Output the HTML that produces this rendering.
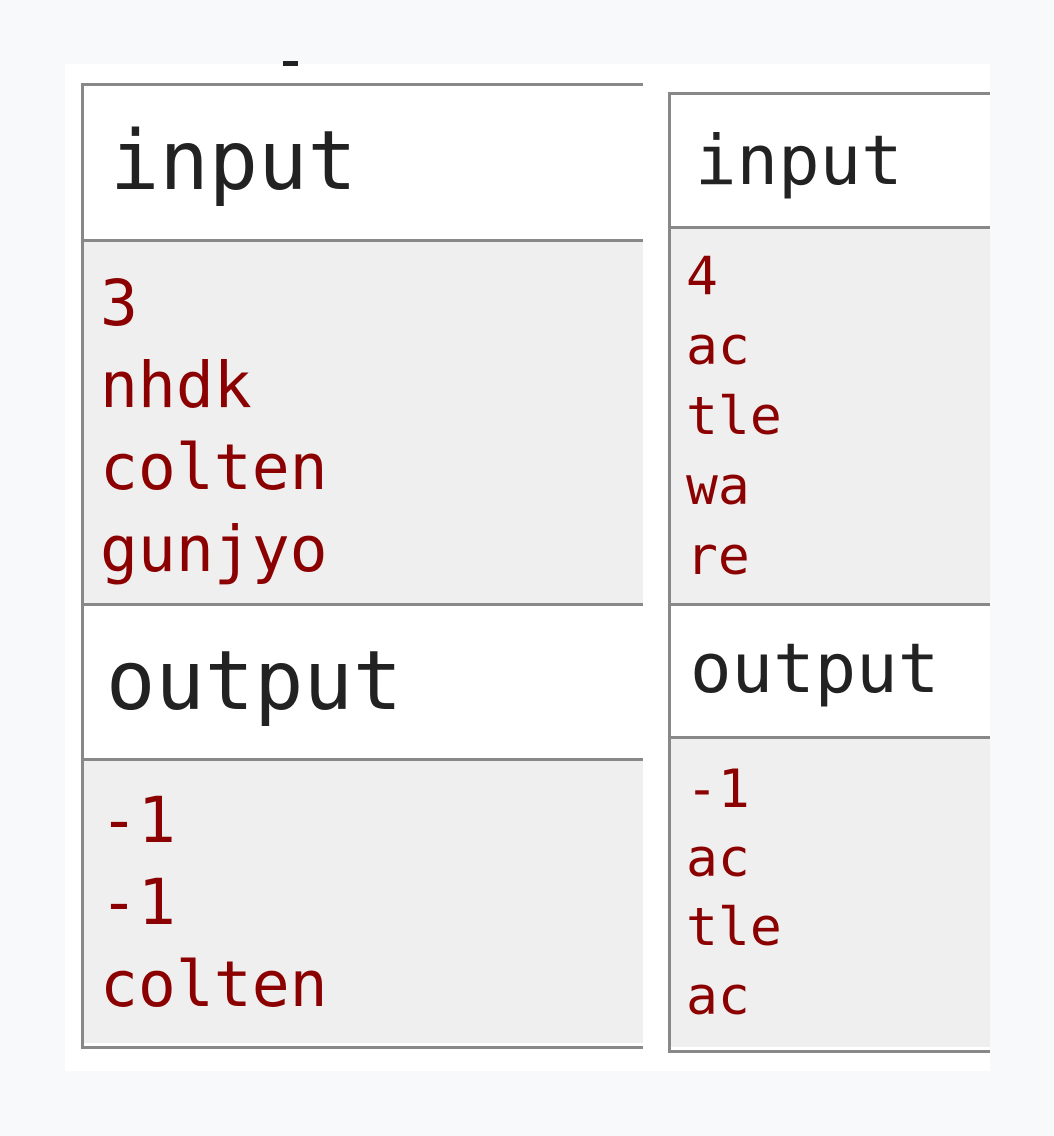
<!DOCTYPE html>
<html><head><meta charset="utf-8"><style>
html,body{margin:0;padding:0;width:1054px;height:1136px;background:#f8f9fa;overflow:hidden;position:relative}
.a{position:absolute}
.t{position:absolute;font-family:"DejaVu Sans Mono","Liberation Mono",monospace;line-height:1;white-space:pre}
.h{color:#222}
.d{color:#8b0000}
</style></head><body>
<div class="a" style="left:65px;top:64px;width:925px;height:1007px;background:#fff"></div>
<div class="a" style="left:283px;top:61px;width:15px;height:5px;background:#222"></div>

<!-- left table -->
<div class="a" style="left:81px;top:83px;width:570px;height:960px;border:3px solid #888;border-right:none;background:#fff"></div>
<div class="a" style="left:84px;top:241px;width:559px;height:363px;background:#efefef"></div>
<div class="a" style="left:84px;top:239px;width:559px;height:3px;background:#888"></div>
<div class="a" style="left:84px;top:603px;width:559px;height:3px;background:#888"></div>
<div class="a" style="left:84px;top:761px;width:559px;height:282px;background:#efefef"></div>
<div class="a" style="left:84px;top:758px;width:559px;height:3px;background:#888"></div>
<div class="a" style="left:643px;top:64px;width:25px;height:1007px;background:#fff"></div>

<div class="t h" style="left:110px;top:121px;font-size:82px;line-height:82px">input</div>
<div class="t d" style="left:100px;top:263px;font-size:63px;line-height:82px">3
nhdk
colten
gunjyo</div>
<div class="t h" style="left:106px;top:641px;font-size:82px;line-height:82px">output</div>
<div class="t d" style="left:100px;top:780px;font-size:63px;line-height:82px">-1
-1
colten</div>

<!-- right table -->
<div class="a" style="left:668px;top:92px;width:319px;height:955px;border:3px solid #888;border-right:none;background:#fff"></div>
<div class="a" style="left:671px;top:228px;width:319px;height:376px;background:#efefef"></div>
<div class="a" style="left:671px;top:226px;width:319px;height:3px;background:#888"></div>
<div class="a" style="left:671px;top:603px;width:319px;height:3px;background:#888"></div>
<div class="a" style="left:671px;top:739px;width:319px;height:308px;background:#efefef"></div>
<div class="a" style="left:671px;top:736px;width:319px;height:3px;background:#888"></div>

<div class="t h" style="left:695px;top:127px;font-size:69px;line-height:69px">input</div>
<div class="t d" style="left:686px;top:242px;font-size:53px;line-height:70px">4
ac
tle
wa
re</div>
<div class="t h" style="left:690px;top:635px;font-size:69px;line-height:69px">output</div>
<div class="t d" style="left:686px;top:755px;font-size:53px;line-height:69px">-1
ac
tle
ac</div>
</body></html>
